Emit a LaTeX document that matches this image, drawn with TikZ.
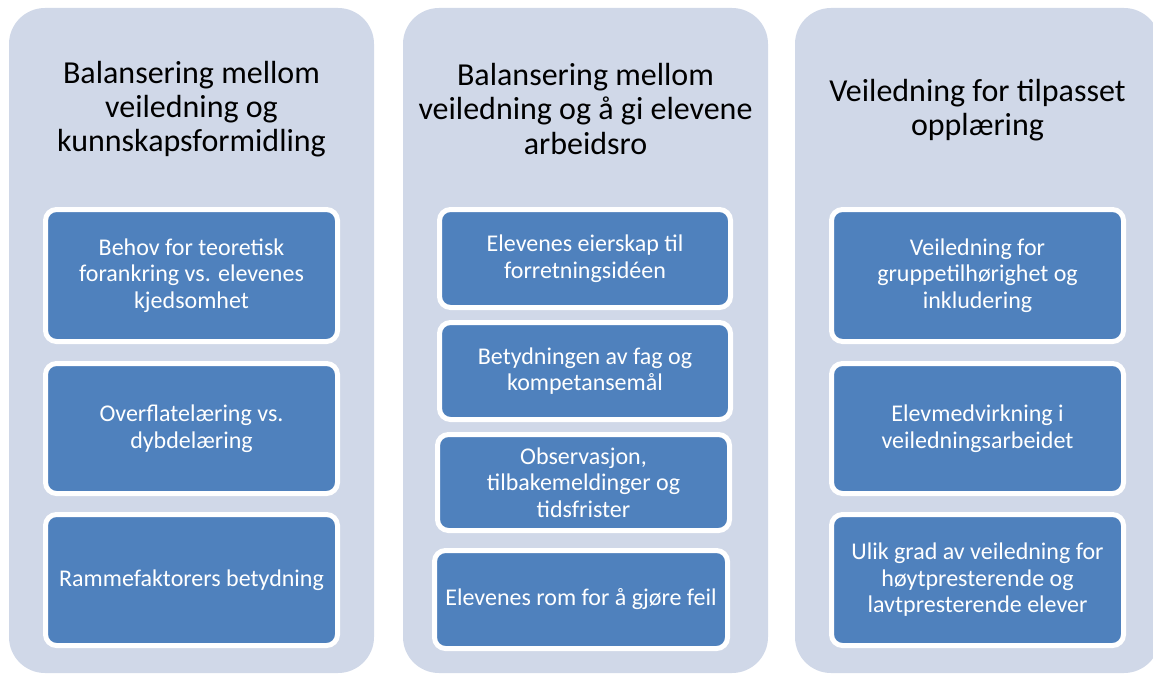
\documentclass[tikz,border=0pt]{standalone}
\usepackage{fontspec}
\setmainfont{Carlito}
\usepackage{xcolor}
\usepackage{tikz}
\usetikzlibrary{positioning}
\definecolor{panelgray}{RGB}{208,216,232}
\definecolor{boxblue}{RGB}{79,129,189}

\tikzset{
	panel/.style={fill=panelgray, rounded corners=36pt, inner sep=0pt, minimum width=365pt, minimum height=665pt},
	paneltitle/.style={text=black, align=center, font=\fontsize{32}{34.3}\selectfont},
	topicbox/.style={fill=boxblue, draw=white, line width=5pt, rounded corners=11pt, inner sep=0pt, minimum width=292pt, text=white, align=center, font=\fontsize{24}{26.5}\selectfont}
}

\begin{document}
\begin{tikzpicture}[x=1pt, y=-1pt]
		\useasboundingbox (0,0) rectangle (1153,674);
		\pgfmathsetmacro{\colA}{191.5}
		\pgfmathsetmacro{\colB}{585.5}
		\pgfmathsetmacro{\colC}{977.5}
		
		\node[panel] (p1) at (\colA,340.5) {};
		\node[panel] (p2) at (\colB,340.5) {};
		\node[panel] (p3) at (795+182.5,340.5) {};
		
		\node[paneltitle] (t1) at (\colA,109) {Balansering mellom\\veiledning og\\kunnskapsformidling};
		\node[paneltitle] (t2) at (\colB,109) {Balansering mellom\\veiledning og å gi elevene\\arbeidsro};
		\node[paneltitle] (t3) at (\colC,110) {Veiledning for tilpasset\\opplæring};
		
		\node[topicbox, minimum height=132pt] (b11) at (\colA,275.5) {Behov for teoretisk\\forankring vs. elevenes\\kjedsomhet};
		\node[topicbox, minimum height=130pt] (b12) at (\colA,428.5) {Overflatelæring vs.\\dybdelæring};
		\node[topicbox, minimum height=131pt] (b13) at (\colA,580) {Rammefaktorers betydning};
		
		\node[topicbox, minimum width=291pt, minimum height=98pt] (b21) at (585,258.5) {Elevenes eierskap til\\forretningsidéen};
		\node[topicbox, minimum width=291pt, minimum height=97pt] (b22) at (585,371) {Betydningen av fag og\\kompetansemål};
		\node[topicbox, minimum width=292pt, minimum height=96pt] (b23) at (583.5,482.5) {Observasjon,\\tilbakemeldinger og\\tidsfrister};
		\node[topicbox, minimum width=293pt, minimum height=98pt] (b24) at (581,599.5) {Elevenes rom for å gjøre feil};
		
		\node[topicbox, minimum height=132pt] (b31) at (\colC,275.5) {Veiledning for\\gruppetilhørighet og\\inkludering};
		\node[topicbox, minimum height=130pt] (b32) at (\colC,428.5) {Elevmedvirkning i\\veiledningsarbeidet};
		\node[topicbox, minimum height=131pt] (b33) at (\colC,580) {Ulik grad av veiledning for\\høytpresterende og\\lavtpresterende elever};
\end{tikzpicture}
\end{document}
